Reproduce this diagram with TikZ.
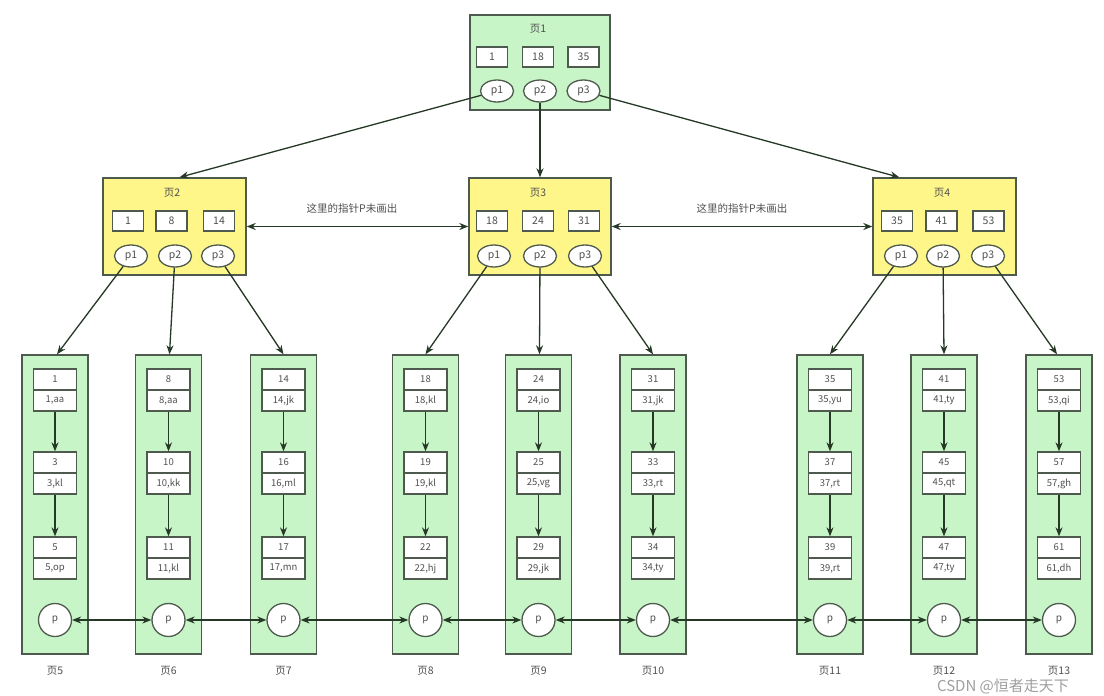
\documentclass[tikz,border=0pt]{standalone}
\usepackage{fontspec}
\setmainfont{Noto Sans CJK SC}
\usetikzlibrary{arrows.meta,shapes.geometric,calc}
\definecolor{pgreen}{HTML}{C8F5C8}
\definecolor{pyellow}{HTML}{FFF68A}
\definecolor{bordc}{HTML}{4E5A4E}
\definecolor{arrc}{HTML}{263826}
\definecolor{txtc}{HTML}{505050}
\tikzset{
  greenpage/.style={draw=bordc, fill=pgreen, line width=1.4pt, inner sep=0pt},
  yellowpage/.style={draw=bordc, fill=pyellow, line width=1.4pt, inner sep=0pt},
  keybox/.style={draw=bordc, fill=white, line width=1.3pt, minimum width=31pt, minimum height=20pt, inner sep=0pt, text=txtc, font=\fontsize{10.5}{12}\selectfont},
  ptrell/.style={ellipse, draw=bordc, fill=white, line width=1.3pt, minimum width=33pt, minimum height=22pt, inner sep=0pt, text=txtc, font=\fontsize{10.5}{12}\selectfont},
  reccell/.style={draw=bordc, fill=white, line width=1.3pt, minimum width=43pt, minimum height=21pt, inner sep=0pt, text=txtc, font=\fontsize{9.5}{11}\selectfont},
  pcirc/.style={circle, draw=bordc, fill=white, line width=1.3pt, minimum size=33pt, inner sep=0pt, text=txtc, font=\fontsize{10}{12}\selectfont},
  pglabel/.style={text=txtc, font=\fontsize{10.5}{12}\selectfont, inner sep=0pt},
  note/.style={text=txtc, font=\fontsize{10.5}{12}\selectfont, inner sep=0pt},
  arr/.style={draw=arrc, line width=1.3pt, -{Stealth[length=9pt,width=7pt]}},
  darr/.style={draw=arrc, line width=1.3pt, {Stealth[length=9pt,width=7pt]}-{Stealth[length=9pt,width=7pt]}},
}
\newcommand\leafpg[8]{%
  \node[greenpage, minimum width=66pt, minimum height=299pt] (L#1) at (#2,504.5) {};
  \node[reccell] (L#1ka) at (#2,379.5) {#3};
  \node[reccell] (L#1va) at (#2,400.5) {#4};
  \node[reccell] (L#1kb) at (#2,462.5) {#5};
  \node[reccell] (L#1vb) at (#2,483.5) {#6};
  \node[reccell] (L#1kc) at (#2,547.5) {#7};
  \node[reccell] (L#1vc) at (#2,568.5) {#8};
  \node[pcirc] (L#1p) at (#2,620) {p};
  \node[pglabel] (L#1lab) at (#2,671) {页#1};
  \draw[arr] (L#1va) -- (L#1kb);
  \draw[arr] (L#1vb) -- (L#1kc);
}
\begin{document}
\begin{tikzpicture}[x=1pt,y=-1pt]
\useasboundingbox[fill=white] (0,0) rectangle (1104,696);

% root page
\node[greenpage, minimum width=140pt, minimum height=95pt] (pg1) at (540,62.5) {};
\node[pglabel] (pg1lab) at (538,29) {页1};
\node[keybox] (k1a) at (492,57) {1};
\node[keybox] (k1b) at (538,57) {18};
\node[keybox] (k1c) at (583.5,57) {35};
\node[ptrell] (e1a) at (497,91) {p1};
\node[ptrell] (e1b) at (540,91) {p2};
\node[ptrell] (e1c) at (583.5,91) {p3};

% page 2
\node[yellowpage, minimum width=143pt, minimum height=97pt] (pg2) at (174.5,226.5) {};
\node[pglabel] (pg2lab) at (172,193) {页2};
\node[keybox] (k2a) at (128,221) {1};
\node[keybox] (k2b) at (171.5,221) {8};
\node[keybox] (k2c) at (219,221) {14};
\node[ptrell] (e2a) at (131,256) {p1};
\node[ptrell] (e2b) at (175,256) {p2};
\node[ptrell] (e2c) at (218,256) {p3};

% page 3
\node[yellowpage, minimum width=142pt, minimum height=97pt] (pg3) at (540,226.5) {};
\node[pglabel] (pg3lab) at (538,193) {页3};
\node[keybox] (k3a) at (492,221) {18};
\node[keybox] (k3b) at (538,221) {24};
\node[keybox] (k3c) at (584,221) {31};
\node[ptrell] (e3a) at (494,256) {p1};
\node[ptrell] (e3b) at (540,256) {p2};
\node[ptrell] (e3c) at (585,256) {p3};

% page 4
\node[yellowpage, minimum width=143pt, minimum height=97pt] (pg4) at (944.5,226.5) {};
\node[pglabel] (pg4lab) at (942,193) {页4};
\node[keybox] (k4a) at (897,221) {35};
\node[keybox] (k4b) at (941.5,221) {41};
\node[keybox] (k4c) at (988.5,221) {53};
\node[ptrell] (e4a) at (901,256) {p1};
\node[ptrell] (e4b) at (943,256) {p2};
\node[ptrell] (e4c) at (988,256) {p3};

% notes
\node[note] (n1) at (352,208) {这里的指针P未画出};
\node[note] (n2) at (742,208) {这里的指针P未画出};

% root arrows
\draw[arr] (e1a) -- ([xshift=5pt]pg2.north);
\draw[arr] (e1b) -- (pg3.north);
\draw[arr] (e1c) -- ([xshift=27pt]pg4.north west);

% sibling arrows
\draw[darr] (pg2.east) -- (pg3.west);
\draw[darr] (pg3.east) -- (pg4.west);

% leaf pages
\leafpg{5}{55}{1}{1,aa}{3}{3,kl}{5}{5,op}
\leafpg{6}{168.5}{8}{8,aa}{10}{10,kk}{11}{11,kl}
\leafpg{7}{283.5}{14}{14,jk}{16}{16,ml}{17}{17,mn}
\leafpg{8}{425.5}{18}{18,kl}{19}{19,kl}{22}{22,hj}
\leafpg{9}{538.5}{24}{24,io}{25}{25,vg}{29}{29,jk}
\leafpg{10}{653}{31}{31,jk}{33}{33,rt}{34}{34,ty}
\leafpg{11}{830}{35}{35,yu}{37}{37,rt}{39}{39,rt}
\leafpg{12}{944}{41}{41,ty}{45}{45,qt}{47}{47,ty}
\leafpg{13}{1059}{53}{53,qi}{57}{57,gh}{61}{61,dh}

% internal to leaf arrows
\draw[arr] (e2a) -- ([xshift=2pt]L5.north);
\draw[arr] (e2b) -- ([xshift=1pt]L6.north);
\draw[arr] (e2c) -- (L7.north);
\draw[arr] (e3a) -- (L8.north);
\draw[arr] (e3b) -- ([xshift=1pt]L9.north);
\draw[arr] (e3c) -- (L10.north);
\draw[arr] (e4a) -- (L11.north);
\draw[arr] (e4b) -- (L12.north);
\draw[arr] (e4c) -- ([xshift=-2pt]L13.north);

% leaf links
\draw[darr] (L5p) -- (L6p);
\draw[darr] (L6p) -- (L7p);
\draw[darr] (L7p) -- (L8p);
\draw[darr] (L8p) -- (L9p);
\draw[darr] (L9p) -- (L10p);
\draw[darr] (L10p) -- (L11p);
\draw[darr] (L11p) -- (L12p);
\draw[darr] (L12p) -- (L13p);

% watermark
\node[text=gray!75, font=\fontsize{15}{17}\selectfont, inner sep=0pt] (wm) at (1003,686) {CSDN @恒者走天下};
\end{tikzpicture}
\end{document}
